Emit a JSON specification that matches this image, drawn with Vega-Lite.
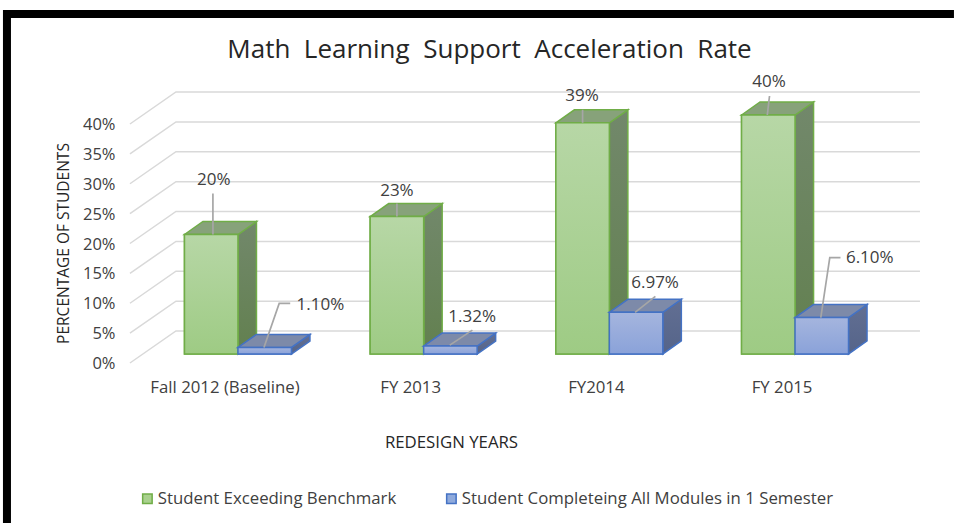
{"$schema":"https://vega.github.io/schema/vega-lite/v6.json","width":743,"height":239,"autosize":"none","padding":{"left":145,"top":115,"right":66,"bottom":169},"background":"white","config":{"view":{"stroke":null},"font":"Open Sans","axis":{"labelOverlap":false,"labelSeparation":0}},
"title":{"text":"Math\u00a0 Learning\u00a0 Support\u00a0 Acceleration\u00a0 Rate","font":"Open Sans","fontSize":26,"fontWeight":"normal","color":"#262626","anchor":"middle","dx":-27,"offset":-53},
"datasets":{"bars":[
{"year":"Fall 2012 (Baseline)","series":"Student Exceeding Benchmark","value":20,"label":"20%","key":"G1"},
{"year":"FY 2013","series":"Student Exceeding Benchmark","value":23,"label":"23%","key":"G2"},
{"year":"FY2014","series":"Student Exceeding Benchmark","value":38.7,"label":"39%","key":"G3"},
{"year":"FY 2015","series":"Student Exceeding Benchmark","value":40,"label":"40%","key":"G4"},
{"year":"Fall 2012 (Baseline)","series":"Student Completeing All Modules in 1 Semester","value":1.1,"label":"1.10%","key":"B1"},
{"year":"FY 2013","series":"Student Completeing All Modules in 1 Semester","value":1.32,"label":"1.32%","key":"B2"},
{"year":"FY2014","series":"Student Completeing All Modules in 1 Semester","value":6.97,"label":"6.97%","key":"B3"},
{"year":"FY 2015","series":"Student Completeing All Modules in 1 Semester","value":6.1,"label":"6.10%","key":"B4"}],
"ticks":[{"tick":0},{"tick":5},{"tick":10},{"tick":15},{"tick":20},{"tick":25},{"tick":30},{"tick":35},{"tick":40}],
"frame":[{"tick":0}]},
"data":{"name":"bars"},
"resolve":{"scale":{"shape":"independent"}},
"layer":[
{"data":{"name":"frame"},"mark":{"type":"point","filled":true,"opacity":1,"size":4,"fill":"#000000","stroke":null,"shape":"M-235,-344L716,-344L716,-336L-227,-336L-227,169L-235,169Z"},"encoding":{"x":{"datum":"Fall 2012 (Baseline)","type":"nominal","scale":{"domain":["Fall 2012 (Baseline)","FY 2013","FY2014","FY 2015"],"paddingInner":0.424,"paddingOuter":0.2126},"axis":{"title":"REDESIGN YEARS","titleX":306,"titleY":80,"titleFont":"Open Sans","titleFontSize":16.8,"titleFontWeight":"normal","titleColor":"#262626","labelAngle":0,"labelAlign":"center","labelFont":"Open Sans","labelFontSize":16.8,"labelColor":"#404040","labelOffset":-13,"labelPadding":25.5,"ticks":false,"domain":false,"grid":false,"labelOverlap":false}},"y":{"field":"tick","type":"quantitative","scale":{"domain":[0,40]},"axis":{"title":"PERCENTAGE OF STUDENTS","titleX":-74,"titleY":128,"titleFont":"Open Sans","titleFontSize":15.5,"titleFontWeight":"normal","titleColor":"#262626","tickCount":9,"values":[0,5,10,15,20,25,30,35,40],"labelExpr":"datum.value+'%'","labelFont":"Open Sans","labelFontSize":16.5,"labelColor":"#404040","labelOffset":9.5,"labelPadding":30,"labelOverlap":false,"ticks":false,"domain":false,"grid":false}}}},
{"data":{"name":"ticks"},"mark":{"type":"point","filled":false,"opacity":1,"size":4,"stroke":"#d9d9d9","strokeWidth":1.5,"shape":"M-108,9L-62,-23L682,-23"},"encoding":{"x":{"datum":"Fall 2012 (Baseline)","type":"nominal"},"y":{"field":"tick","type":"quantitative"}}},
{"transform":[{"filter":"datum.series=='Student Exceeding Benchmark'"}],"mark":{"type":"point","filled":true,"opacity":1,"size":4,"stroke":"#70ad47","strokeWidth":1.5,"fill":{"gradient":"linear","x1":0,"y1":0,"x2":0,"y2":1,"stops":[{"offset":0,"color":"#72886b"},{"offset":1,"color":"#62804f"}]}},"encoding":{"x":{"field":"year","type":"nominal"},"xOffset":{"field":"series","sort":["Student Exceeding Benchmark","Student Completeing All Modules in 1 Semester"],"scale":{"paddingInner":0,"paddingOuter":0}},"y":{"field":"value","type":"quantitative"},"shape":{"field":"key","type":"nominal","legend":null,"scale":{"domain":["G1","G2","G3","G4"],"range":["M26.75,0L45.25,-13L45.25,106.5L26.75,119.5Z","M26.75,0L45.25,-13L45.25,124.4L26.75,137.4Z","M26.75,0L45.25,-13L45.25,218.2L26.75,231.2Z","M26.75,0L45.25,-13L45.25,226L26.75,239Z"]}}}},
{"transform":[{"filter":"datum.series=='Student Exceeding Benchmark'"}],"mark":{"type":"point","filled":true,"opacity":1,"size":4,"stroke":"#70ad47","strokeWidth":1.5,"fill":"#87a27a","shape":"M-26.75,0L-8.25,-13L45.25,-13L26.75,0Z"},"encoding":{"x":{"field":"year","type":"nominal"},"xOffset":{"field":"series","sort":["Student Exceeding Benchmark","Student Completeing All Modules in 1 Semester"]},"y":{"field":"value","type":"quantitative"}}},
{"mark":{"type":"bar","strokeWidth":1.5},"encoding":{"x":{"field":"year","type":"nominal"},"xOffset":{"field":"series","sort":["Student Exceeding Benchmark","Student Completeing All Modules in 1 Semester"]},"y":{"field":"value","type":"quantitative"},"fill":{"field":"series","type":"nominal","scale":{"domain":["Student Exceeding Benchmark","Student Completeing All Modules in 1 Semester"],"range":["#a9d18e","#8faadc"]},"legend":{"title":null,"orient":"none","legendX":-6,"legendY":375,"direction":"horizontal","columns":2,"symbolType":"square","symbolSize":90,"symbolStrokeWidth":1.5,"labelFont":"Open Sans","labelFontSize":16.8,"labelColor":"#404040","labelLimit":500,"labelOffset":2,"columnPadding":46}},"stroke":{"field":"series","type":"nominal","scale":{"domain":["Student Exceeding Benchmark","Student Completeing All Modules in 1 Semester"],"range":["#70ad47","#4472c4"]},"legend":null}}},
{"transform":[{"filter":"datum.series=='Student Exceeding Benchmark'"}],"mark":{"type":"bar","stroke":"#70ad47","strokeWidth":1.5,"fill":{"gradient":"linear","x1":0,"y1":0,"x2":0,"y2":1,"stops":[{"offset":0,"color":"#b7d7a6"},{"offset":1,"color":"#9ecb84"}]}},"encoding":{"x":{"field":"year","type":"nominal"},"xOffset":{"field":"series","sort":["Student Exceeding Benchmark","Student Completeing All Modules in 1 Semester"]},"y":{"field":"value","type":"quantitative"}}},
{"transform":[{"filter":"datum.series!='Student Exceeding Benchmark'"}],"mark":{"type":"point","filled":true,"opacity":1,"size":4,"stroke":"#4472c4","strokeWidth":1.5,"fill":{"gradient":"linear","x1":0,"y1":0,"x2":0,"y2":1,"stops":[{"offset":0,"color":"#626f93"},{"offset":1,"color":"#556489"}]}},"encoding":{"x":{"field":"year","type":"nominal"},"xOffset":{"field":"series","sort":["Student Exceeding Benchmark","Student Completeing All Modules in 1 Semester"]},"y":{"field":"value","type":"quantitative"},"shape":{"field":"key","type":"nominal","legend":null,"scale":{"domain":["B1","B2","B3","B4"],"range":["M26.75,0L45.25,-13L45.25,-6.4L26.75,6.6Z","M26.75,0L45.25,-13L45.25,-5.1L26.75,7.9Z","M26.75,0L45.25,-13L45.25,28.6L26.75,41.6Z","M26.75,0L45.25,-13L45.25,23.4L26.75,36.4Z"]}}}},
{"transform":[{"filter":"datum.series!='Student Exceeding Benchmark'"}],"mark":{"type":"point","filled":true,"opacity":1,"size":4,"stroke":"#4472c4","strokeWidth":1.5,"fill":"#7d8aa9","shape":"M-26.75,0L-8.25,-13L45.25,-13L26.75,0Z"},"encoding":{"x":{"field":"year","type":"nominal"},"xOffset":{"field":"series","sort":["Student Exceeding Benchmark","Student Completeing All Modules in 1 Semester"]},"y":{"field":"value","type":"quantitative"}}},
{"transform":[{"filter":"datum.series!='Student Exceeding Benchmark'"}],"mark":{"type":"bar","stroke":"#4472c4","strokeWidth":1.5,"fill":{"gradient":"linear","x1":0,"y1":0,"x2":0,"y2":1,"stops":[{"offset":0,"color":"#a5b5de"},{"offset":1,"color":"#8aa2d9"}]}},"encoding":{"x":{"field":"year","type":"nominal"},"xOffset":{"field":"series","sort":["Student Exceeding Benchmark","Student Completeing All Modules in 1 Semester"]},"y":{"field":"value","type":"quantitative"}}},
{"mark":{"type":"point","filled":false,"opacity":1,"size":4,"stroke":"#a6a6a6","strokeWidth":1.7},"encoding":{"x":{"field":"year","type":"nominal"},"xOffset":{"field":"series","sort":["Student Exceeding Benchmark","Student Completeing All Modules in 1 Semester"]},"y":{"field":"value","type":"quantitative"},"shape":{"field":"key","type":"nominal","legend":null,"scale":{"domain":["G1","G2","G3","G4","B1","B2","B3","B4"],"range":["M1.7,0L1.7,-41","M0,0L0,-13","M0,0L0,-13","M-1,0L1.2,-19","M-0.75,0L14.5,-44L25.5,-44","M-0.6,-1L22,-16","M-1,0L19.3,-16","M-1,0L8,-60L18.7,-60"]}}}},
{"transform":[{"filter":"datum.key=='G1'"}],"mark":{"type":"text","font":"Open Sans","fontSize":17,"color":"#404040","dx":2.5,"dy":-54.5},"encoding":{"x":{"field":"year","type":"nominal"},"xOffset":{"field":"series","sort":["Student Exceeding Benchmark","Student Completeing All Modules in 1 Semester"]},"y":{"field":"value","type":"quantitative"},"text":{"field":"label"}}},
{"transform":[{"filter":"datum.key=='G2'"}],"mark":{"type":"text","font":"Open Sans","fontSize":17,"color":"#404040","dx":0,"dy":-26},"encoding":{"x":{"field":"year","type":"nominal"},"xOffset":{"field":"series","sort":["Student Exceeding Benchmark","Student Completeing All Modules in 1 Semester"]},"y":{"field":"value","type":"quantitative"},"text":{"field":"label"}}},
{"transform":[{"filter":"datum.key=='G3'"}],"mark":{"type":"text","font":"Open Sans","fontSize":17,"color":"#404040","dx":-0.5,"dy":-27},"encoding":{"x":{"field":"year","type":"nominal"},"xOffset":{"field":"series","sort":["Student Exceeding Benchmark","Student Completeing All Modules in 1 Semester"]},"y":{"field":"value","type":"quantitative"},"text":{"field":"label"}}},
{"transform":[{"filter":"datum.key=='G4'"}],"mark":{"type":"text","font":"Open Sans","fontSize":17,"color":"#404040","dx":0.7,"dy":-33},"encoding":{"x":{"field":"year","type":"nominal"},"xOffset":{"field":"series","sort":["Student Exceeding Benchmark","Student Completeing All Modules in 1 Semester"]},"y":{"field":"value","type":"quantitative"},"text":{"field":"label"}}},
{"transform":[{"filter":"datum.key=='B1'"}],"mark":{"type":"text","font":"Open Sans","fontSize":17,"color":"#404040","dx":55.75,"dy":-42.4},"encoding":{"x":{"field":"year","type":"nominal"},"xOffset":{"field":"series","sort":["Student Exceeding Benchmark","Student Completeing All Modules in 1 Semester"]},"y":{"field":"value","type":"quantitative"},"text":{"field":"label"}}},
{"transform":[{"filter":"datum.key=='B2'"}],"mark":{"type":"text","font":"Open Sans","fontSize":17,"color":"#404040","dx":21.7,"dy":-29.3},"encoding":{"x":{"field":"year","type":"nominal"},"xOffset":{"field":"series","sort":["Student Exceeding Benchmark","Student Completeing All Modules in 1 Semester"]},"y":{"field":"value","type":"quantitative"},"text":{"field":"label"}}},
{"transform":[{"filter":"datum.key=='B3'"}],"mark":{"type":"text","font":"Open Sans","fontSize":17,"color":"#404040","dx":19,"dy":-29.7},"encoding":{"x":{"field":"year","type":"nominal"},"xOffset":{"field":"series","sort":["Student Exceeding Benchmark","Student Completeing All Modules in 1 Semester"]},"y":{"field":"value","type":"quantitative"},"text":{"field":"label"}}},
{"transform":[{"filter":"datum.key=='B4'"}],"mark":{"type":"text","font":"Open Sans","fontSize":17,"color":"#404040","dx":48,"dy":-59.6},"encoding":{"x":{"field":"year","type":"nominal"},"xOffset":{"field":"series","sort":["Student Exceeding Benchmark","Student Completeing All Modules in 1 Semester"]},"y":{"field":"value","type":"quantitative"},"text":{"field":"label"}}}
]}
